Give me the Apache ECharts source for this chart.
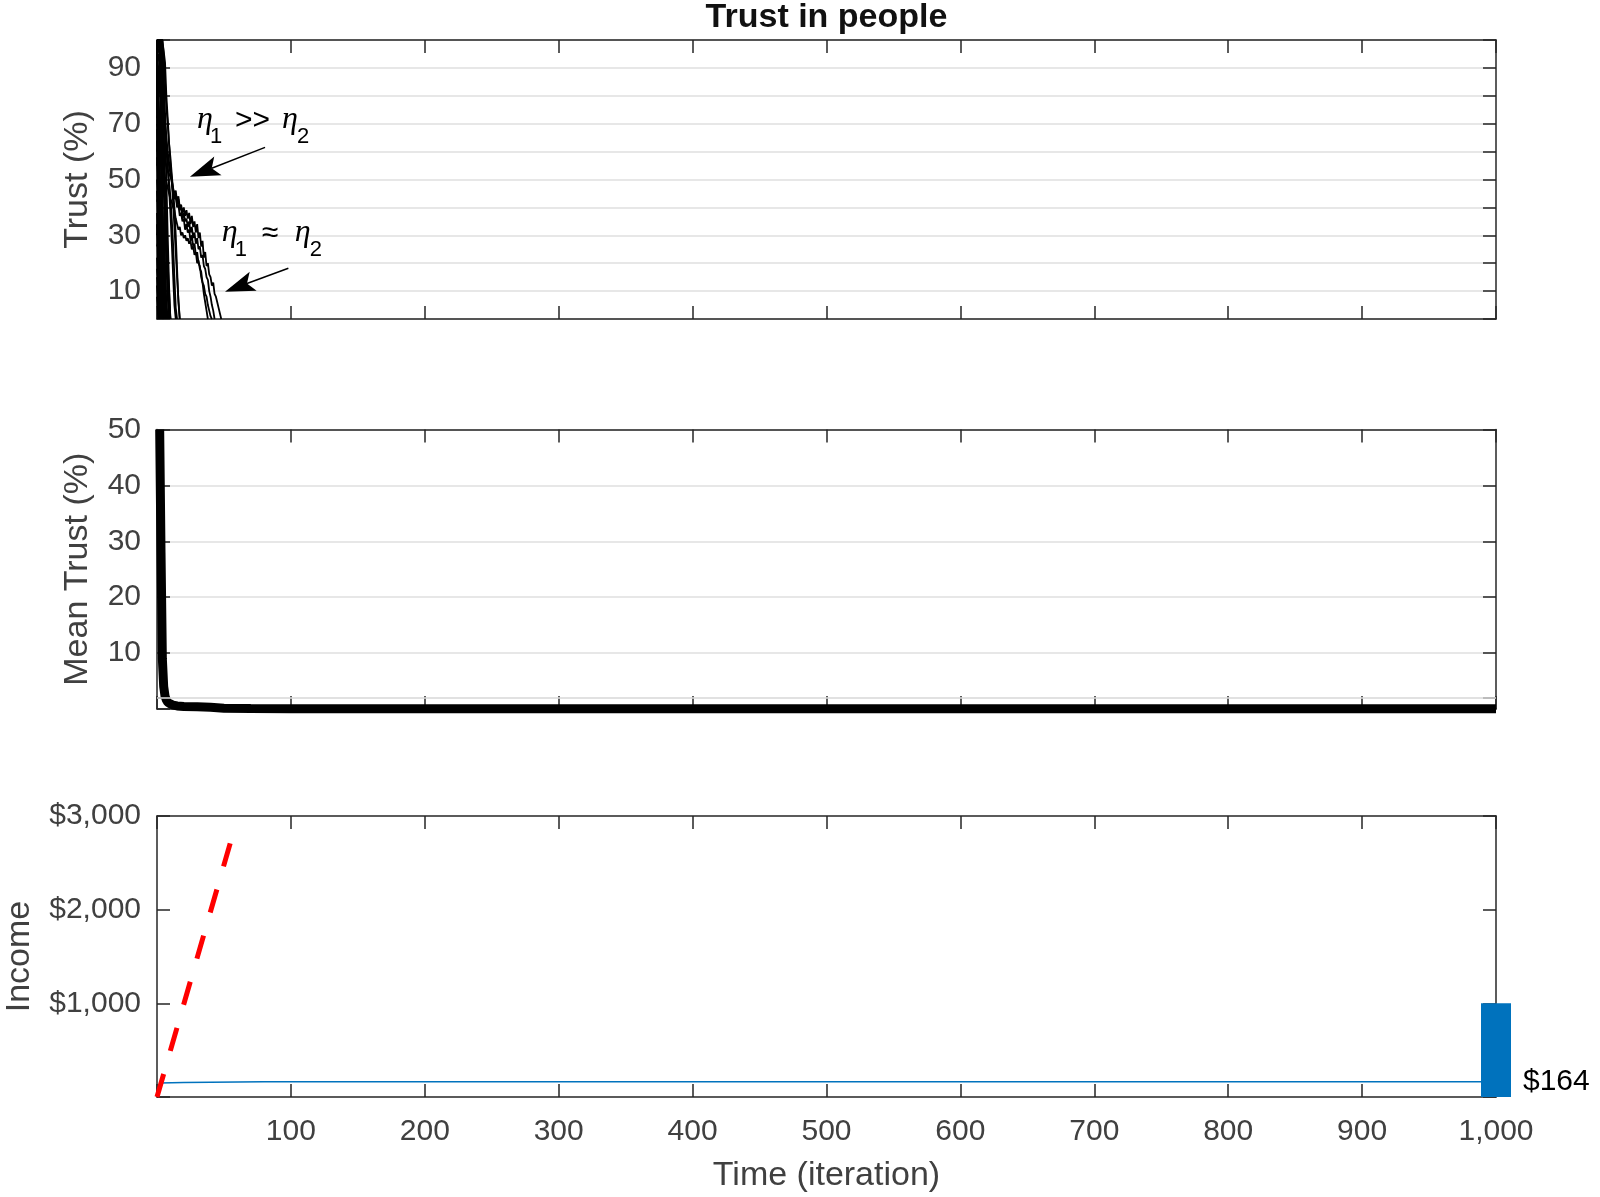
<!DOCTYPE html>
<html><head><meta charset="utf-8">
<script src="https://cdn.jsdelivr.net/npm/echarts@6/dist/echarts.min.js"></script>
<style>html,body{margin:0;padding:0;background:#fff}#c{width:1600px;height:1197px}</style>
</head><body><div id="c"></div><script>
// ---------------- data ----------------
const titleText = 'Trust in people';
const xMin = 0, xMax = 1000, xStep = 100;
const trustTickLabels = [10, 30, 50, 70, 90];
const meanTickLabels = [10, 20, 30, 40, 50];
const meanExtraTick = [2];
const incomeTickLabels = [1000, 2000, 3000];

// individual agents' trust (%), index = iteration
const agentA = [100,100,100,100,100,100,92,80,72,63,56,50,47,45,46,42,44,40,41,38,40,37,39,36,38,34,37,33,35,31,34,29,31,26,28,22,24,19,20,16,15,12,13,9,8,6,4,2,0];
const agentB = [92,90,88,85,80,75,70,65,60,56,53,50,46,44,45,41,43,39,40,36,38,35,36,33,35,31,33,29,31,27,29,25,26,22,23,19,18,15,14,10,8,5,3,0];
const agentC = [70,68,65,61,57,54,51,49,47,45,43,42,40,39,36,34,32,33,30,31,29,30,28,29,27,28,25,26,23,24,20,21,18,17,13,12,9,8,5,3,1,0];
const agentD = [78,74,70,66,63,60,57,55,53,52,51,50,42,33,24,15,7,0];
const agentE = [85,84,82,79,75,71,67,62,58,55,52,49,45,43,44,40,41,37,38,35,36,32,34,31,32,28,30,26,27,23,24,20,19,15,13,9,6,3,0];
const agentS1 = [100,100,96,70,40,12,0];
const agentS2 = [97,88,60,25,0];
const agentS3 = [90,65,30,5,0];
const agentS4 = [80,50,15,0];
const agentS5 = [72,74,68,55,40,28,15,4,0];
const agentS6 = [64,40,10,0];
const agentS7 = [55,58,50,38,22,8,0];
const agentS8 = [46,30,12,0];
const agentS9 = [38,20,0];
const agentS10 = [30,32,25,14,3,0];
const agentS11 = [22,10,0];
const agentS12 = [15,6,0];
const agentS13 = [8,0];
const agentS14 = [100,98,99,95,85,60,35,20,8,0];
const agentS15 = [60,62,65,60,52,45,40,30,18,6,0];
const agentS16 = [88,90,85,78,65,52,48,35,20,10,0];
const agentS17 = [100,100,99,97,90,70,45,25,10,0];
const agentS18 = [100,50,0];
const agentS19 = [95,20,0];
const agentS20 = [100,0];
const agentS21 = [100,100,100,80,30,0];
const agentS22 = [100,100,98,100,90,55,20,0];
const agentS23 = [100,99,100,96,92,80,66,50,30,12,0];
const agentS24 = [93,95,90,70,40,10,0];
const agentS25 = [85,70,45,20,0];
const agentS26 = [75,78,72,60,42,20,5,0];
const agentS27 = [68,55,35,12,0];
const agentS28 = [50,40,22,5,0];
const agentS29 = [42,44,36,25,12,0];
const agentS30 = [34,15,0];
const agentS31 = [26,28,18,6,0];
const agentS32 = [18,12,4,0];
const agentS33 = [12,3,0];
const agentS34 = [100,100,100,100,97,88,74,64,55,47,38,28,16,5,0];
const agentS35 = [96,97,94,92,85,76,68,61,54,49,44,36,27,15,4,0];
const agentS36 = [100,100,100,100,100,95,85,76,70,63,58,52,46,40,30,18,6,0];
const agentS37 = [58,50,44,40,33,25,15,6,0];
const agents = [agentA,agentB,agentC,agentD,agentE,agentS1,agentS2,agentS3,agentS4,agentS5,agentS6,agentS7,agentS8,agentS9,agentS10,agentS11,agentS12,agentS13,agentS14,agentS15,agentS16,agentS17,agentS18,agentS19,agentS20,agentS21,agentS22,agentS23,agentS24,agentS25,agentS26,agentS27,agentS28,agentS29,agentS30,agentS31,agentS32,agentS33,agentS34,agentS35,agentS36,agentS37];

// mean trust (%)
const meanIter  = [2, 3, 4, 5, 6, 7, 8, 10, 12, 15, 20, 30, 40, 50, 70, 100, 1000];
const meanTrust = [50, 28, 9, 4, 2.3, 1.6, 1.2, 0.9, 0.7, 0.55, 0.45, 0.4, 0.3, 0.15, 0.08, 0.05, 0.03];

// income
const incomeIter = [2, 20, 80, 1000];
const incomeVals = [150, 156, 162, 164];
const targetIter = [0, 56];
const targetVals = [0, 2775];
const barIter = [1000];
const barVals = [1000];
const finalIncomeText = '$164';

// annotations (data coordinates of text anchor / arrow tail / arrow tip)
const ann1Anchor = [29.9, 67.4], ann1Tail = [80.7, 61.5], ann1Tip = [24.6, 51.0];
const ann2Anchor = [48.3, 26.9], ann2Tail = [98.1, 18.2], ann2Tip = [50.8, 9.8];

// ---------------- chart ----------------
const FF = '"Liberation Sans", Arial, Helvetica, sans-serif';
const AX = '#262626', LBL = '#404040', GRID = '#dfdfdf';
const FS = 30, NFS = 34;
const chart = echarts.init(document.getElementById('c'), null, {renderer: 'canvas'});

const grids = [
  {left: 157, top: 40, width: 1339, height: 279, outerBoundsMode: 'none'},
  {left: 157, top: 429.5, width: 1339, height: 279.5, outerBoundsMode: 'none'},
  {left: 157, top: 816, width: 1339, height: 281, outerBoundsMode: 'none'}
];

function xAxis(gi, pos, labels, name) {
  return {
    type: 'value', gridIndex: gi, position: pos, min: xMin, max: xMax, interval: xStep,
    axisLine: {show: true, onZero: false, lineStyle: {color: AX, width: 1.5}},
    axisTick: {show: true, inside: true, length: 13, lineStyle: {color: AX, width: 1.5}},
    axisLabel: {show: labels, margin: 20, fontSize: FS, color: LBL, fontFamily: FF, showMaxLabel: true,
      formatter: v => v === 0 ? '' : v.toLocaleString('en-US')},
    splitLine: {show: false},
    name: name || '', nameLocation: 'middle', nameGap: 62,
    nameTextStyle: {fontSize: NFS, color: LBL, fontFamily: FF}
  };
}
function yAxis(gi, pos, min, max, interval, fmt, split, name, nameGap, tickVals) {
  const ax = {
    type: 'value', gridIndex: gi, position: pos, min, max, interval,
    axisLine: {show: true, onZero: false, lineStyle: {color: AX, width: 1.5}},
    axisTick: {show: true, inside: true, length: 13, lineStyle: {color: AX, width: 1.5}},
    axisLabel: {show: !!fmt, margin: 16, fontSize: FS, color: LBL, fontFamily: FF, showMaxLabel: true, showMinLabel: true,
      formatter: fmt || ''},
    splitLine: {show: split, lineStyle: {color: GRID, width: 1.5}},
    name: name || '', nameLocation: 'middle', nameGap: nameGap || 0,
    nameTextStyle: {fontSize: NFS, color: LBL, fontFamily: FF}
  };
  if (tickVals) ax.axisTick.customValues = tickVals;
  return ax;
}

const meanTickVals = [0].concat(meanExtraTick, meanTickLabels);

const xAxes = [
  xAxis(0, 'bottom', false), xAxis(0, 'top', false),
  xAxis(1, 'bottom', false), xAxis(1, 'top', false),
  xAxis(2, 'bottom', true, 'Time (iteration)'), xAxis(2, 'top', false)
];
const yAxes = [
  yAxis(0, 'left', 0, 100, 10, v => trustTickLabels.includes(v) ? String(v) : '', true, 'Trust (%)', 62),
  yAxis(0, 'right', 0, 100, 10, null, false),
  yAxis(1, 'left', 0, 50, 10, v => meanTickLabels.includes(v) ? String(v) : '', true, 'Mean Trust (%)', 62, meanTickVals),
  yAxis(1, 'right', 0, 50, 10, null, false, '', 0, meanTickVals),
  yAxis(2, 'left', 0, 3000, 1000, v => incomeTickLabels.includes(v) ? '$' + v.toLocaleString('en-US') : '', false, 'Income', 120),
  yAxis(2, 'right', 0, 3000, 1000, null, false)
];

const series = [];
agents.forEach(arr => {
  series.push({
    type: 'line', xAxisIndex: 0, yAxisIndex: 0, symbol: 'none', silent: true,
    data: arr.map((v, i) => [i, v]),
    lineStyle: {color: '#000', width: 1.8}, z: 3
  });
});
series.push({
  type: 'line', xAxisIndex: 2, yAxisIndex: 2, symbol: 'none', silent: true, data: [], z: 1,
  markLine: {silent: true, symbol: 'none', label: {show: false}, animation: false,
    lineStyle: {color: GRID, width: 1.5, type: 'solid'}, data: meanExtraTick.map(v => ({yAxis: v}))}
});
series.push({
  type: 'line', xAxisIndex: 2, yAxisIndex: 2, symbol: 'none', silent: true, clip: false,
  data: meanIter.map((x, i) => [x, meanTrust[i]]),
  lineStyle: {color: '#000', width: 9}, z: 3
});
series.push({
  type: 'line', xAxisIndex: 4, yAxisIndex: 4, symbol: 'none', silent: true,
  data: incomeIter.map((x, i) => [x, incomeVals[i]]),
  lineStyle: {color: '#0072BD', width: 1.5}, z: 3
});
series.push({
  type: 'line', xAxisIndex: 4, yAxisIndex: 4, symbol: 'none', silent: true, clip: false,
  data: targetIter.map((x, i) => [x, targetVals[i]]),
  lineStyle: {color: '#FF0000', width: 5, type: [24, 24]}, z: 4
});
series.push({
  type: 'bar', xAxisIndex: 4, yAxisIndex: 4, silent: true, clip: false, barWidth: 30,
  data: barIter.map((x, i) => [x, barVals[i]]),
  itemStyle: {color: '#0072BD'}, z: 5
});

chart.setOption({
  animation: false,
  backgroundColor: '#fff',
  grid: grids,
  xAxis: xAxes,
  yAxis: yAxes,
  series
});

// ---------------- annotations ----------------
const g = [];
function P(gi, pt) { return chart.convertToPixel({xAxisIndex: gi * 2, yAxisIndex: gi * 2}, pt); }

// title centred over the plot area
const tc = P(0, [(xMin + xMax) / 2, 100]);
g.push({type: 'text', silent: true, z: 100, x: tc[0], y: 18,
  style: {text: titleText, font: 'bold 34px ' + FF, fill: '#111', align: 'center', verticalAlign: 'middle'}});

function arrow(tail, tip) {
  const a = P(0, tail), b = P(0, tip);
  const dx = b[0] - a[0], dy = b[1] - a[1], len = Math.hypot(dx, dy);
  const ux = dx / len, uy = dy / len, nx = -uy, ny = ux;
  const L = 30, W = 10;
  const base = [b[0] - ux * L * 0.78, b[1] - uy * L * 0.78];
  g.push({type: 'line', silent: true, z: 100,
    shape: {x1: a[0], y1: a[1], x2: base[0], y2: base[1]}, style: {stroke: '#000', lineWidth: 1.5}});
  g.push({type: 'polygon', silent: true, z: 100,
    shape: {points: [[b[0], b[1]], [b[0] - ux * L + nx * W, b[1] - uy * L + ny * W], base, [b[0] - ux * L - nx * W, b[1] - uy * L - ny * W]]},
    style: {fill: '#000'}});
}
const GREEK = 'italic 32px "Liberation Serif", "DejaVu Serif", serif';
function label(anchor, pieces) {
  const p = P(0, anchor);
  pieces.forEach(pc => {
    g.push({type: 'text', silent: true, z: 100, x: p[0] + pc.dx, y: p[1] + pc.dy - 0.35 * pc.size,
      style: {text: pc.t, font: pc.font, fill: '#000', align: 'left', verticalAlign: 'middle'}});
  });
}
const SUB = '22px ' + FF, OP = '30px ' + FF;
label(ann1Anchor, [
  {t: 'η', dx: 0, dy: 0, size: 32, font: GREEK},
  {t: '1', dx: 13, dy: 14, size: 22, font: SUB},
  {t: '>>', dx: 38, dy: 0, size: 30, font: OP},
  {t: 'η', dx: 85, dy: 0, size: 32, font: GREEK},
  {t: '2', dx: 100, dy: 14, size: 22, font: SUB}
]);
label(ann2Anchor, [
  {t: 'η', dx: 0, dy: 0, size: 32, font: GREEK},
  {t: '1', dx: 13, dy: 14, size: 22, font: SUB},
  {t: '≈', dx: 40, dy: 0, size: 30, font: OP},
  {t: 'η', dx: 73, dy: 0, size: 32, font: GREEK},
  {t: '2', dx: 88, dy: 14, size: 22, font: SUB}
]);
arrow(ann1Tail, ann1Tip);
arrow(ann2Tail, ann2Tip);

const lp = P(2, [barIter[0], incomeVals[incomeVals.length - 1]]);
g.push({type: 'text', silent: true, z: 100, x: lp[0] + 27, y: lp[1],
  style: {text: finalIncomeText, font: '30px ' + FF, fill: '#000', align: 'left', verticalAlign: 'middle'}});

chart.setOption({graphic: g});
</script></body></html>
